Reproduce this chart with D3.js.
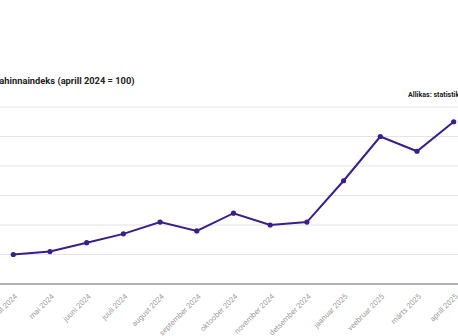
<!DOCTYPE html>
<html><head><meta charset="utf-8">
<script src="https://cdn.jsdelivr.net/npm/d3@7"></script>
<style>html,body{margin:0;padding:0;background:#fff;overflow:hidden}</style>
</head><body><svg id="c" width="458" height="336"></svg>
<script>
const months = ["aprill 2024","mai 2024","juuni 2024","juuli 2024","august 2024","september 2024","oktoober 2024","november 2024","detsember 2024","jaanuar 2025","veebruar 2025","märts 2025","aprill 2025"];
const values = [100.0,100.1,100.4,100.7,101.1,100.8,101.4,101.0,101.1,102.5,104.0,103.5,104.5];
const yTicks = [100,101,102,103,104,105];
const title = "Toiduainete tarbijahinnaindeks (aprill 2024 = 100)";
const source = "Allikas: statistikaamet";

const svg = d3.select("#c");
const x = d3.scalePoint().domain(months).range([13.3, 453.7]);
const y = d3.scaleLinear().domain([99,105]).range([284,107]);

svg.append("text").attr("x",134.5).attr("y",84).attr("text-anchor","end")
  .attr("font-family","Roboto").attr("font-weight","bold").attr("font-size",9.3).attr("fill","#222").text(title);
svg.append("text").attr("x",408).attr("y",97)
  .attr("font-family","Roboto").attr("font-weight","bold").attr("font-size",7.1).attr("fill","#222").text(source);

const g = svg.append("g");
g.selectAll("line.grid").data(yTicks).join("line").attr("class","grid")
  .attr("x1",-20).attr("x2",480).attr("y1",d=>y(d)).attr("y2",d=>y(d))
  .attr("stroke","#e4e4e4").attr("stroke-width",1);

const xAxis = d3.axisBottom(x).tickSize(0).tickPadding(0);
const ax = svg.append("g").attr("transform","translate(0,284)").call(xAxis);
ax.select(".domain").attr("d","M-20,0H480").attr("stroke","#666").attr("stroke-width",1.2);
ax.selectAll("text").attr("font-family","Roboto").attr("font-size",7.6).attr("fill","#a0a0a0")
  .attr("text-anchor","end").attr("dy",null).attr("y",null)
  .attr("transform","translate(4,13) rotate(-45)");

const line = d3.line().x((d,i)=>x(months[i])).y(d=>y(d));
svg.append("path").datum(values).attr("d",line).attr("fill","none")
  .attr("stroke","#3a1f8c").attr("stroke-width",2);
svg.selectAll("circle.pt").data(values).join("circle").attr("class","pt")
  .attr("cx",(d,i)=>x(months[i])).attr("cy",d=>y(d)).attr("r",2.6).attr("fill","#3a1f8c");
</script></body></html>
